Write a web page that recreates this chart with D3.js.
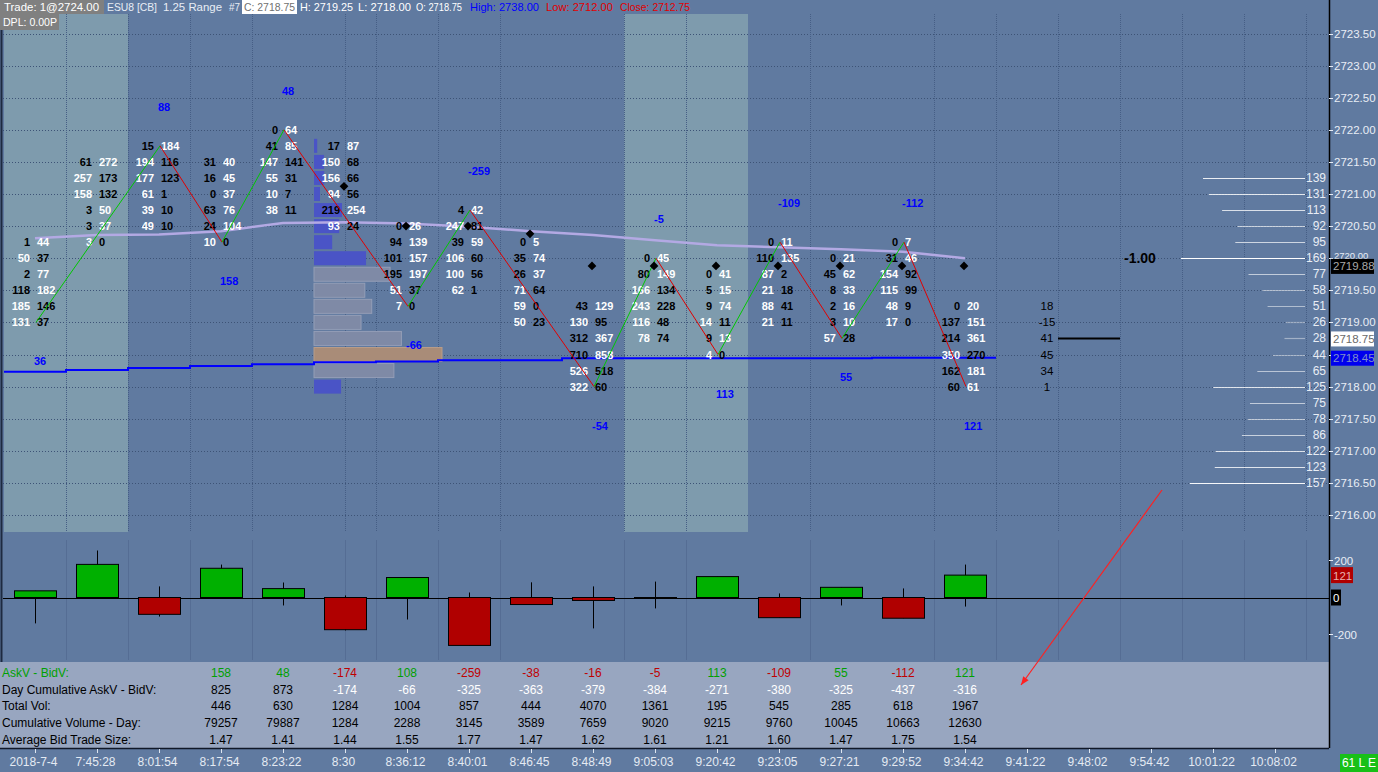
<!DOCTYPE html>
<html><head><meta charset="utf-8">
<script src="https://cdn.jsdelivr.net/npm/d3@7/dist/d3.min.js"></script>
<style>body{margin:0;background:#607aa0;overflow:hidden}svg{display:block}</style>
</head><body><svg id="c" width="1378" height="772"></svg>
<script>
// ---------------- DATA ----------------
const timeLabels = ["2018-7-4","7:45:28","8:01:54","8:17:54","8:23:22","8:30","8:36:12","8:40:01","8:46:45","8:48:49","9:05:03","9:20:42","9:23:05","9:27:21","9:29:52","9:34:42","9:41:22","9:48:02","9:54:42","10:01:22","10:08:02"];
const barTop = [2720.25,2721.50,2721.75,2721.50,2722.00,2721.75,2720.50,2720.75,2720.25,2719.25,2720.00,2719.75,2720.25,2720.00,2720.25,2719.25];
const bidVol = [[1,50,2,118,185,131],[61,257,158,3,3,3],[15,194,177,61,39,49],[31,16,0,63,24,10],[0,41,147,55,10,38],[17,150,156,94,219,93],[0,94,101,195,51,7],[4,247,39,106,100,62],[0,35,26,71,59,50],[43,130,312,710,526,322],[0,80,166,243,116,78],[0,5,9,14,9,4],[0,110,87,21,88,21],[0,45,8,2,3,57],[0,31,154,115,48,17],[0,137,214,350,162,60]];
const askVol = [[44,37,77,182,146,37],[272,173,132,50,37,0],[184,116,123,1,10,10],[40,45,37,76,104,0],[64,85,141,31,7,11],[87,68,66,56,254,24],[26,139,157,197,37,0],[42,81,59,60,56,1],[5,74,37,64,0,23],[129,95,367,858,518,60],[45,149,134,228,48,74],[41,15,74,11,13,0],[11,135,2,18,41,11],[21,62,33,16,10,28],[7,46,92,99,9,0],[20,151,361,270,181,61]];
const pivotBars = [0,2,3,4,6,7,9,10,11,12,13,14,15];
const pivotType = ["L","H","L","H","L","H","L","H","L","H","L","H","L"];
const maLine = [2720.31,2720.36,2720.37,2720.42,2720.55,2720.56,2720.54,2720.49,2720.42,2720.36,2720.28,2720.20,2720.17,2720.14,2720.10,2720.00];
const blueLine = [2718.23,2718.26,2718.29,2718.32,2718.35,2718.38,2718.39,2718.41,2718.41,2718.44,2718.44,2718.44,2718.44,2718.44,2718.45,2718.45];
const diamondVals = [null,null,null,null,null,2721.12,2720.50,2720.50,2720.38,2719.88,2719.88,2719.88,2719.88,2719.88,2719.88,2719.88];
const shadeBars = [0,1,10,11];
const sessionStartBar = 5;
const deltaHigh = [36,254,60,178,81,11,108,27,82,60,86,113,22,55,49,178];
const deltaLow = [-140,0,-103,0,-43,-178,-119,-259,-38,-167,-59,0,-109,-43,-112,-49];
const sideColPrices = [2719.25,2719.00,2718.75,2718.50,2718.25,2718.00];
const sideColVals = [18,-15,41,45,34,1];
const rightProfTop = 2721.25;
const rightProfVals = [139,131,113,92,95,169,77,58,51,26,28,44,65,125,75,78,86,122,123,157];
const tableStartBar = 3;
const tableRowNames = ["AskV - BidV:","Day Cumulative AskV - BidV:","Total Vol:","Cumulative Volume - Day:","Average Bid Trade Size:"];
const dayCumDelta = [825,873,-174,-66,-325,-363,-379,-384,-271,-380,-325,-437,-316];
const cumVolume = [79257,79887,1284,2288,3145,3589,7659,9020,9215,9760,10045,10663,12630];
const avgBidSize = ["1.47","1.41","1.44","1.55","1.77","1.47","1.62","1.61","1.21","1.60","1.47","1.75","1.54"];
const gridBars = [0.5,1.5,2.5,3.5,5,5.5,6.5,7.5,9.5,10.5,12.5,14.5,15.5,16.5,17.5,18.5,19.5,20.5];
const priceTicks = d3.range(2716,2723.51,0.5);
const deltaTicks = [200,-200];
const lastPrice = 2718.75, lastDiamond = 2719.88, lastBlue = 2718.45;
const headerItems = [
  {t:"Trade: 1@2724.00",x:4,w:95,c:"#ffffff"},{t:"ESU8 [CB]",x:107,w:50,c:"#e8edf5"},{t:"1.25 Range",x:163,w:59,c:"#e8edf5"},
  {t:"#7",x:229,w:11,c:"#e8edf5"},{t:"C: 2718.75",x:244,w:51,c:"#707070"},{t:"H: 2719.25",x:300,w:53,c:"#ffffff"},
  {t:"L: 2718.00",x:358,w:53,c:"#ffffff"},{t:"O: 2718.75",x:416,w:46,c:"#ffffff"},{t:"High: 2738.00",x:470,w:69,c:"#0000ff"},
  {t:"Low: 2712.00",x:546,w:67,c:"#e00000"},{t:"Close: 2712.75",x:620,w:70,c:"#e00000"}];

// ---------------- DERIVED ----------------
const nBars = barTop.length;
const rows = barTop.map((t,i)=>bidVol[i].map((b,r)=>({bar:i,price:t-0.25*r,bid:b,ask:askVol[i][r]})));
const delta = rows.map(rs=>d3.sum(rs,r=>r.ask-r.bid));
const totalVol = rows.map(rs=>d3.sum(rs,r=>r.ask+r.bid));
const barLow = rows.map(rs=>rs[rs.length-1].price);
const profMap = new Map();
rows.slice(sessionStartBar).flat().forEach(r=>{const k=r.price.toFixed(2);profMap.set(k,(profMap.get(k)||0)+r.bid+r.ask);});
const profile = Array.from(profMap,([k,v])=>({price:+k,vol:v})).sort((a,b)=>b.price-a.price);
const poc = profile.reduce((a,b)=>b.vol>a.vol?b:a);
(function(){const tot=d3.sum(profile,d=>d.vol);let pi=profile.indexOf(poc),lo=pi,hi=pi,acc=poc.vol;
 while(acc<tot*0.7){const up=hi>0?profile[hi-1].vol:-1,dn=lo<profile.length-1?profile[lo+1].vol:-1;
  if(up>=dn){hi--;acc+=up;}else{lo++;acc+=dn;}}
 profile.forEach((d,i)=>d.inVA=(i>=hi&&i<=lo));})();

// ---------------- SCALES ----------------
const W=1378,H=772, plotR=1329;
const x = d3.scaleLinear().domain([0,20]).range([35,1275]);
const y = d3.scaleLinear().domain([2716,2723.5]).range([515,33.5]);
const yd = d3.scaleLinear().domain([-200,200]).range([634.5,560.5]);
const wProf = d3.scaleLinear().domain([50,d3.max(profile,d=>d.vol)]).range([0,128]);
const wRight = d3.scaleLinear().domain([0,d3.max(rightProfVals)]).range([0,124]);
const FONT = '"Liberation Sans", Arial, sans-serif';

const svg = d3.select("#c").attr("font-family",FONT);
svg.append("rect").attr("width",W).attr("height",H).attr("fill","#607aa0");

svg.append("g").selectAll("rect").data(shadeBars).join("rect")
  .attr("x",d=>x(d)-31).attr("width",62).attr("y",14).attr("height",518).attr("fill","#7e9bad");

const grid = svg.append("g");
grid.selectAll("line.h").data(priceTicks).join("line").attr("class","h")
  .attr("x1",3).attr("x2",plotR).attr("y1",d=>Math.round(y(d))+0.5).attr("y2",d=>Math.round(y(d))+0.5)
  .attr("stroke","#3d5376").attr("stroke-dasharray","1,2");
grid.selectAll("line.v").data(gridBars).join("line").attr("class","v")
  .attr("x1",d=>Math.round(x(d))+0.5).attr("x2",d=>Math.round(x(d))+0.5).attr("y1",14).attr("y2",532)
  .attr("stroke","#465e85").attr("stroke-dasharray","1,1");
grid.selectAll("line.v2").data(gridBars).join("line").attr("class","v2")
  .attr("x1",d=>Math.round(x(d))+0.5).attr("x2",d=>Math.round(x(d))+0.5).attr("y1",540).attr("y2",660)
  .attr("stroke","#556d94");

svg.append("line").attr("x1",1.5).attr("x2",1.5).attr("y1",14).attr("y2",662).attr("stroke","#1e2a40").attr("stroke-width",2);

svg.append("g").selectAll("rect").data(profile).join("rect")
  .attr("x",x(sessionStartBar)-31).attr("y",d=>y(d.price)-7).attr("height",14)
  .attr("width",d=>Math.max(2,wProf(d.vol)))
  .attr("fill",d=>d===poc?"#a98c78":(d.inVA?"#7f8aa6":"#4a54c6"))
  .attr("stroke",d=>d===poc?"#b89c88":(d.inVA?"#939db6":"none")).attr("stroke-width",1);

const rp = rightProfVals.map((v,i)=>({v,price:rightProfTop-0.25*i}));
const rpg = svg.append("g");
rpg.selectAll("line").data(rp).join("line")
  .attr("x1",d=>1305-wRight(d.v)).attr("x2",1305).attr("y1",d=>Math.round(y(d.price))+0.5).attr("y2",d=>Math.round(y(d.price))+0.5)
  .attr("stroke","#ffffff").attr("stroke-opacity",d=>0.3+0.7*d.v/d3.max(rightProfVals)).attr("stroke-width",1.2);
rpg.selectAll("text").data(rp).join("text")
  .attr("x",1326).attr("y",d=>y(d.price)+4).attr("text-anchor","end")
  .attr("font-size","12px").attr("fill","#e8edf5").text(d=>d.v);

const bluePts = blueLine.map((v,i)=>[x(i)-31,y(v)]); bluePts.push([x(nBars-1)+31,y(blueLine[nBars-1])]);
svg.append("path").attr("d",d3.line().curve(d3.curveStepAfter)(bluePts)).attr("fill","none").attr("stroke","#0000ff").attr("stroke-width",2);
svg.append("path").attr("d",d3.line().x((d,i)=>x(i)).y(d=>y(d))(maLine)).attr("fill","none").attr("stroke","#b3a9e3").attr("stroke-width",2.5);

const fp = svg.append("g").attr("font-size","11px").attr("font-weight","bold");
const flat = rows.flat();
fp.selectAll("text.b").data(flat).join("text").attr("class","b")
  .attr("x",d=>x(d.bar)-5).attr("y",d=>y(d.price)+4).attr("text-anchor","end")
  .attr("fill",d=>d.bid>d.ask?"#ffffff":"#000000").text(d=>d.bid);
fp.selectAll("text.a").data(flat).join("text").attr("class","a")
  .attr("x",d=>x(d.bar)+2).attr("y",d=>y(d.price)+4).attr("text-anchor","start")
  .attr("fill",d=>d.ask>=d.bid?"#ffffff":"#000000").text(d=>d.ask);

const piv = pivotBars.map((b,k)=>({bar:b,type:pivotType[k],price:pivotType[k]==="H"?barTop[b]:barLow[b],
  leg:d3.sum(delta.slice(k===0?0:pivotBars[k-1]+1,b+1))}));
const segs = d3.pairs(piv);
svg.append("g").selectAll("line").data(segs).join("line")
  .attr("x1",d=>x(d[0].bar)+1).attr("y1",d=>y(d[0].price)).attr("x2",d=>x(d[1].bar)+1).attr("y2",d=>y(d[1].price))
  .attr("stroke",d=>d[1].type==="H"?"#00c800":"#e00000").attr("stroke-width",1);
svg.append("g").attr("font-size","11px").attr("font-weight","bold").selectAll("text").data(piv).join("text")
  .attr("x",d=>x(d.bar)-1).attr("y",d=>d.type==="H"?y(d.price)-35:y(d.price)+43)
  .attr("fill","#0000ff").text(d=>d.leg);

const dm = diamondVals.map((v,i)=>({v,i})).filter(d=>d.v!==null);
svg.append("g").selectAll("path").data(dm).join("path")
  .attr("d",d3.symbol(d3.symbolSquare,38)())
  .attr("transform",d=>`translate(${x(d.i)-1},${y(d.v)}) rotate(45)`).attr("fill","#000");

svg.append("g").attr("font-size","11.5px").selectAll("text").data(sideColPrices).join("text")
  .attr("x",x(16)+20).attr("y",d=>y(d)+4).attr("text-anchor","middle").attr("fill","#000")
  .text((d,i)=>sideColVals[i]);
svg.append("text").attr("x",x(17)+35).attr("y",y(2720)+5).attr("font-size","14px").attr("font-weight","bold").attr("fill","#000").text("-1.00");
svg.append("line").attr("x1",x(16)+31).attr("x2",x(17)+31).attr("y1",y(lastPrice)).attr("y2",y(lastPrice)).attr("stroke","#000").attr("stroke-width",2);

// lower delta panel
svg.append("line").attr("x1",3).attr("x2",plotR).attr("y1",Math.round(yd(0))+0.5).attr("y2",Math.round(yd(0))+0.5).attr("stroke","#000");
const cand = delta.map((d,i)=>({i,c:d,h:deltaHigh[i],l:deltaLow[i]}));
svg.append("g").selectAll("line").data(cand).join("line")
  .attr("x1",d=>Math.round(x(d.i))+0.5).attr("x2",d=>Math.round(x(d.i))+0.5).attr("y1",d=>yd(d.h)).attr("y2",d=>yd(d.l)).attr("stroke","#000");
svg.append("g").selectAll("rect").data(cand).join("rect")
  .attr("x",d=>Math.round(x(d.i))-20.5).attr("width",42)
  .attr("y",d=>yd(Math.max(0,d.c))).attr("height",d=>Math.max(1,Math.abs(yd(d.c)-yd(0))))
  .attr("fill",d=>d.c>0?"#00b000":"#b00000").attr("stroke","#000").attr("stroke-width",1);

// table
svg.append("rect").attr("x",0).attr("y",662).attr("width",plotR).attr("height",86).attr("fill","#98a6c0");
svg.append("line").attr("x1",0).attr("x2",plotR).attr("y1",748.5).attr("y2",748.5).attr("stroke","#101828").attr("stroke-width",1.5);
const rowY = [673,690,706,723,740];
const tg = svg.append("g").attr("font-size","12px");
tg.selectAll("text.lab").data(tableRowNames).join("text").attr("class","lab")
  .attr("x",2).attr("y",(d,i)=>rowY[i]+4).attr("fill",(d,i)=>i===0?"#00a000":"#000").text(d=>d);
const tRows = [delta.slice(tableStartBar), dayCumDelta, totalVol.slice(tableStartBar), cumVolume, avgBidSize];
tRows.forEach((vals,r)=>{
  tg.selectAll("text.r"+r).data(vals).join("text").attr("class","r"+r)
    .attr("x",(d,j)=>x(tableStartBar+j)).attr("y",rowY[r]+4).attr("text-anchor","middle")
    .attr("fill",d=>r===0?(d>0?"#00a000":"#c00000"):(r===1?(d<0?"#ffffff":"#000"):"#000"))
    .text(d=>d);
});

// time axis
const ta = svg.append("g").attr("font-size","12px");
ta.selectAll("line").data(timeLabels).join("line")
  .attr("x1",(d,i)=>Math.round(x(i))+0.5).attr("x2",(d,i)=>Math.round(x(i))+0.5).attr("y1",749).attr("y2",753).attr("stroke","#dfe6f0");
ta.selectAll("text").data(timeLabels).join("text")
  .attr("x",(d,i)=>x(i)-1.5).attr("y",766).attr("text-anchor","middle").attr("fill","#e4eaf3").text(d=>d);
svg.append("rect").attr("x",1340).attr("y",754).attr("width",38).attr("height",18).attr("fill","#18c018");
svg.append("text").attr("x",1359).attr("y",767).attr("text-anchor","middle").attr("font-size","12px").attr("fill","#fff").text("61 L E");

// right axis
svg.append("line").attr("x1",plotR+0.5).attr("x2",plotR+0.5).attr("y1",0).attr("y2",748).attr("stroke","#000").attr("stroke-width",1.5);
const ra = svg.append("g").attr("font-size","11.5px");
const boxes = [{v:lastDiamond,bg:"#000000",fg:"#a8a8a8"},{v:lastPrice,bg:"#ffffff",fg:"#6a6a6a"},{v:lastBlue,bg:"#0000ee",fg:"#8090c8"}];
ra.selectAll("line").data(priceTicks).join("line")
  .attr("x1",plotR).attr("x2",plotR+4).attr("y1",d=>Math.round(y(d))+0.5).attr("y2",d=>Math.round(y(d))+0.5).attr("stroke","#e8edf5");
// a tick label fully hidden behind a value box is not drawn; a partly hidden one is shrunk above the box
const hidden = d=>boxes.some(b=>Math.abs(y(b.v)-y(d))<5);
const partly = d=>!hidden(d) && boxes.some(b=>y(b.v)-y(d)>=5 && y(b.v)-y(d)<12);
ra.selectAll("text.t").data(priceTicks.filter(d=>!hidden(d))).join("text").attr("class","t")
  .attr("x",1334).attr("y",d=>partly(d)?y(d)+0.5:y(d)+4).attr("font-size",d=>partly(d)?"9.5px":null)
  .attr("fill","#e8edf5").text(d=>d.toFixed(2));
boxes.forEach(b=>{
  ra.append("rect").attr("x",1331).attr("y",y(b.v)-7).attr("width",43).attr("height",15).attr("fill",b.bg);
  ra.append("text").attr("x",1333).attr("y",y(b.v)+4.5).attr("fill",b.fg).text(b.v.toFixed(2));
});
ra.selectAll("line.d").data(deltaTicks).join("line").attr("class","d")
  .attr("x1",plotR).attr("x2",plotR+4).attr("y1",d=>yd(d)).attr("y2",d=>yd(d)).attr("stroke","#e8edf5");
ra.selectAll("text.d").data(deltaTicks).join("text").attr("class","d")
  .attr("x",1334).attr("y",d=>yd(d)+4).attr("fill","#e8edf5").text(d=>d);
ra.append("rect").attr("x",1331).attr("y",yd(delta[nBars-1])-8).attr("width",22).attr("height",16).attr("fill","#b00000");
ra.append("text").attr("x",1333).attr("y",yd(delta[nBars-1])+4.5).attr("fill","#e8b0b0").text(delta[nBars-1]);
ra.append("rect").attr("x",1331).attr("y",yd(0)-8).attr("width",10).attr("height",16).attr("fill","#000");
ra.append("text").attr("x",1333).attr("y",yd(0)+4.5).attr("fill","#ffffff").text("0");

// header
const hd = svg.append("g").attr("font-size","11.5px");
hd.append("rect").attr("x",0).attr("y",0).attr("width",104).attr("height",14).attr("fill","#808080");
hd.append("rect").attr("x",242).attr("y",0).attr("width",55).attr("height",14).attr("fill","#ffffff");
hd.append("rect").attr("x",0).attr("y",14).attr("width",59).attr("height",16).attr("fill","#808080");
hd.selectAll("text.h").data(headerItems).join("text").attr("class","h").attr("x",d=>d.x).attr("y",11)
  .attr("textLength",d=>d.w).attr("lengthAdjust","spacingAndGlyphs").attr("fill",d=>d.c).text(d=>d.t);
hd.append("text").attr("x",3).attr("y",26).attr("textLength",54).attr("lengthAdjust","spacingAndGlyphs").attr("fill","#ffffff").text("DPL: 0.00P");

// red arrow annotation
const a0=[1162,490], a1=[1021,685];
svg.append("line").attr("x1",a0[0]).attr("y1",a0[1]).attr("x2",a1[0]).attr("y2",a1[1]).attr("stroke","#ff2020").attr("stroke-width",1.2);
const ang=Math.atan2(a1[1]-a0[1],a1[0]-a0[0]), L=9, s=0.38;
svg.append("path").attr("d",`M${a1[0]},${a1[1]}L${a1[0]-L*Math.cos(ang-s)},${a1[1]-L*Math.sin(ang-s)}L${a1[0]-L*Math.cos(ang+s)},${a1[1]-L*Math.sin(ang+s)}Z`).attr("fill","#ff2020");
</script></body></html>
